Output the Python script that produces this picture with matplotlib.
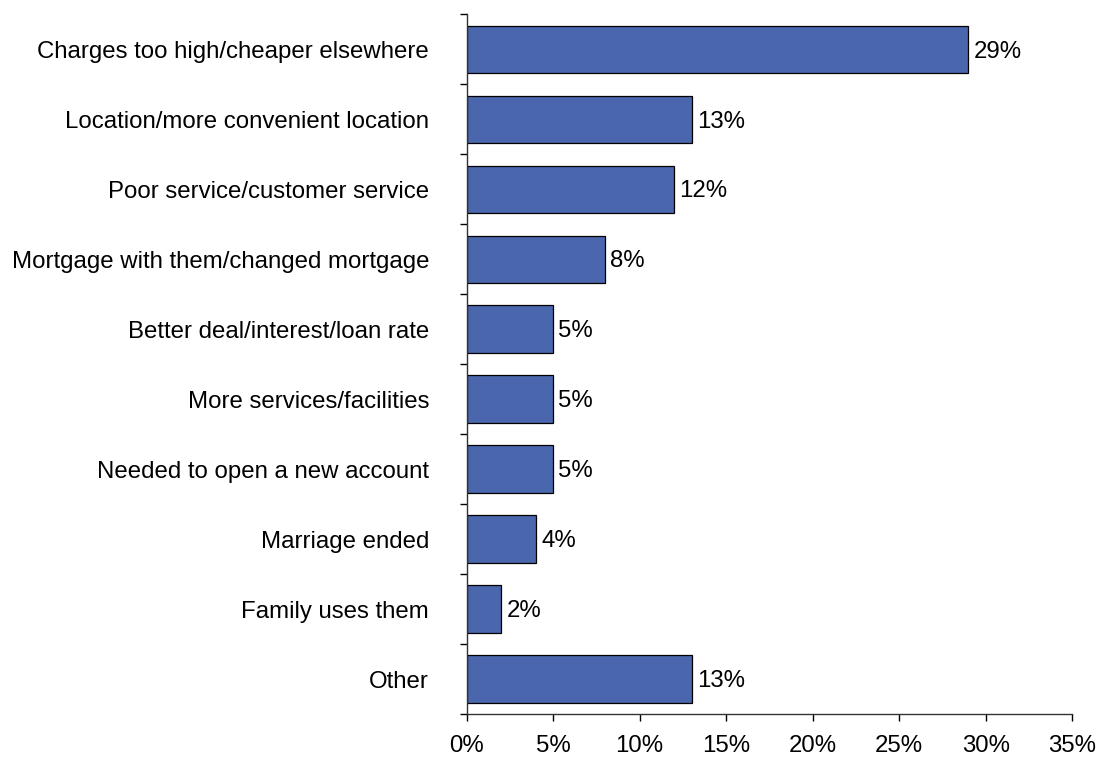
import matplotlib.pyplot as plt
import numpy as np

plt.rcParams['font.family'] = ['Liberation Sans', 'DejaVu Sans']

reasons = [
    "Charges too high/cheaper elsewhere",
    "Location/more convenient location",
    "Poor service/customer service",
    "Mortgage with them/changed mortgage",
    "Better deal/interest/loan rate",
    "More services/facilities",
    "Needed to open a new account",
    "Marriage ended",
    "Family uses them",
    "Other",
]
shares = [29, 13, 12, 8, 5, 5, 5, 4, 2, 13]

fig = plt.figure(figsize=(11.02, 7.58), dpi=100)
ax = fig.add_axes([0.4235, 0.058, 0.5494, 0.9229])

y = np.arange(len(reasons))
ax.barh(y, shares, height=0.68, color='#4A66AC', edgecolor='black', linewidth=0.9)

for yi, v in zip(y, shares):
    ax.text(v + 0.3, yi + 0.03, f"{v}%", va='center', ha='left', fontsize=17.3)

ax.set_ylim(len(reasons) - 0.5, -0.5)
ax.set_xlim(0, 35)
ax.set_xticks(np.arange(0, 36, 5))
ax.set_xticklabels([f"{t}%" for t in range(0, 36, 5)])

ax.set_yticks(y)
ax.set_yticklabels(reasons)
ax.set_yticks(np.arange(-0.5, len(reasons), 1), minor=True)
ax.tick_params(axis='y', which='major', length=0, pad=27, labelsize=17.3)
ax.tick_params(axis='y', which='minor', length=5, width=1, direction='out')
ax.tick_params(axis='x', length=5, width=1, direction='out', labelsize=17.3, pad=10)

for s in ('top', 'right'):
    ax.spines[s].set_visible(False)
for s in ('left', 'bottom'):
    ax.spines[s].set_linewidth(1)
    ax.spines[s].set_color('#333333')

fig.savefig('out.png', dpi=100)
